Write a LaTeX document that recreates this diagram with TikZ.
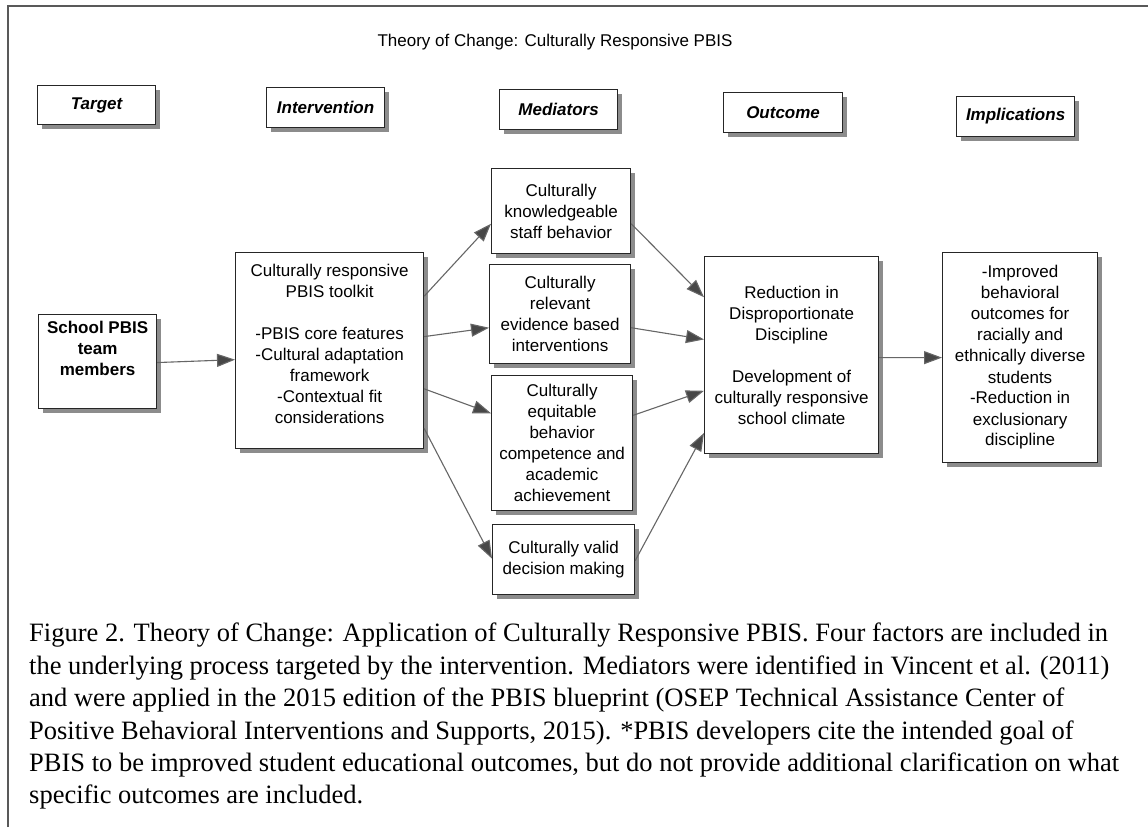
\documentclass[tikz,border=0pt]{standalone}
\usepackage{fontspec}
\setmainfont{Liberation Sans}
\newfontfamily\captionserif{Liberation Serif}
\usetikzlibrary{arrows.meta,shadows,calc}

% box content: width, height, extra space below the text (lifts it), text
\newcommand{\boxtext}[4]{\parbox[c][#2][c]{#1}{\centering #4\par\vspace*{#3}}}

\begin{document}
\begin{tikzpicture}[x=1pt,y=-1pt,
  box/.style={draw=black!85, line width=1.2pt, fill=white, inner sep=0pt, anchor=north west,
    drop shadow={shadow xshift=4pt, shadow yshift=-4pt, fill=black!45, opacity=1},
    font=\fontsize{17pt}{21pt}\selectfont},
  head/.style={box, font=\fontsize{17pt}{21pt}\selectfont\bfseries\itshape},
  link/.style={draw=black!60, line width=1.1pt,
    -{Triangle[length=18pt,width=13pt,fill=black!72]}},
  frame/.style={draw=black!65, line width=2pt}
]
\useasboundingbox (0,0) rectangle (1148,827);
\fill[white] (0,0) rectangle (1148,827);

% outer frame (left and top edges)
\draw[frame] (8,827) -- (8,6) -- (1148,6);

% title
\node[font=\fontsize{17pt}{21pt}\selectfont] (title) at (555,42)
  {Theory of Change: Culturally Responsive PBIS};

% column headings
\node[head] (hTarget) at (37,85)  {\boxtext{118pt}{39pt}{0pt}{Target}};
\node[head] (hInt)    at (266,87) {\boxtext{118pt}{40pt}{0pt}{Intervention}};
\node[head] (hMed)    at (499,89) {\boxtext{118pt}{40pt}{0pt}{Mediators}};
\node[head] (hOut)    at (723,92) {\boxtext{119pt}{40pt}{0pt}{Outcome}};
\node[head] (hImp)    at (956,96) {\boxtext{118pt}{40pt}{0pt}{Implications}};

% diagram boxes
\node[box] (school) at (38,314)
  {\boxtext{118pt}{94pt}{26pt}{\bfseries School PBIS\\team\\members}};
\node[box] (int) at (235,252)
  {\boxtext{188pt}{196pt}{14pt}{Culturally responsive\\PBIS toolkit\\[21pt]
   -PBIS core features\\-Cultural adaptation\\framework\\-Contextual fit\\considerations}};
\node[box] (med1) at (491,168)
  {\boxtext{139pt}{85pt}{0pt}{Culturally\\knowledgeable\\staff behavior}};
\node[box] (med2) at (489,264)
  {\boxtext{141pt}{99pt}{0pt}{Culturally\\relevant\\evidence based\\interventions}};
\node[box] (med3) at (491,375)
  {\boxtext{141pt}{135pt}{0pt}{Culturally\\equitable\\behavior\\competence and\\academic\\achievement}};
\node[box] (med4) at (492,524)
  {\boxtext{142pt}{70pt}{0pt}{Culturally valid\\decision making}};
\node[box] (out) at (704,256)
  {\boxtext{174pt}{197pt}{0pt}{Reduction in\\Disproportionate\\Discipline\\[21pt]
   Development of\\culturally responsive\\school climate}};
\node[box] (impl) at (942,252)
  {\boxtext{155pt}{210pt}{0pt}{-Improved\\behavioral\\outcomes for\\racially and\\ethnically diverse\\students\\-Reduction in\\exclusionary\\discipline}};

% attachment points on the box borders
\coordinate (sA) at ($(school.north east)!0.51!(school.south east)$);
\coordinate (iA) at ($(int.north west)!0.546!(int.south west)$);
\coordinate (i1) at ($(int.north east)!0.224!(int.south east)$);
\coordinate (i2) at ($(int.north east)!0.429!(int.south east)$);
\coordinate (i3) at ($(int.north east)!0.694!(int.south east)$);
\coordinate (i4) at ($(int.north east)!0.895!(int.south east)$);
\coordinate (m1in)  at ($(med1.north west)!0.647!(med1.south west)$);
\coordinate (m2in)  at ($(med2.north west)!0.636!(med2.south west)$);
\coordinate (m3in)  at ($(med3.north west)!0.281!(med3.south west)$);
\coordinate (m4in)  at ($(med4.north west)!0.486!(med4.south west)$);
\coordinate (m1out) at ($(med1.north east)!0.647!(med1.south east)$);
\coordinate (m2out) at ($(med2.north east)!0.636!(med2.south east)$);
\coordinate (m3out) at ($(med3.north east)!0.296!(med3.south east)$);
\coordinate (m4out) at ($(med4.north east)!0.514!(med4.south east)$);
\coordinate (o1) at ($(out.north west)!0.208!(out.south west)$);
\coordinate (o2) at ($(out.north west)!0.421!(out.south west)$);
\coordinate (o3) at ($(out.north west)!0.680!(out.south west)$);
\coordinate (o4) at ($(out.north west)!0.893!(out.south west)$);
\coordinate (oR) at ($(out.north east)!0.513!(out.south east)$);
\coordinate (pL) at ($(impl.north west)!0.5!(impl.south west)$);

% connectors
\draw[link] (sA) -- (iA);
\draw[link] (i1) -- (m1in);
\draw[link] (i2) -- (m2in);
\draw[link] (i3) -- (m3in);
\draw[link] (i4) -- (m4in);
\draw[link] (m1out) -- (o1);
\draw[link] (m2out) -- (o2);
\draw[link] (m3out) -- (o3);
\draw[link] (m4out) -- (o4);
\draw[link] (oR) -- (pL);

% caption
\node[anchor=north west, inner sep=0pt, align=left,
  font=\captionserif\fontsize{26.5pt}{32.4pt}\selectfont] (caption) at (29,623)
  {Figure 2. Theory of Change: Application of Culturally Responsive PBIS. Four factors are included in\\
   the underlying process targeted by the intervention. Mediators were identified in Vincent et al. (2011)\\
   and were applied in the 2015 edition of the PBIS blueprint (OSEP Technical Assistance Center of\\
   Positive Behavioral Interventions and Supports, 2015). *PBIS developers cite the intended goal of\\
   PBIS to be improved student educational outcomes, but do not provide additional clarification on what\\
   specific outcomes are included.};
\end{tikzpicture}
\end{document}
